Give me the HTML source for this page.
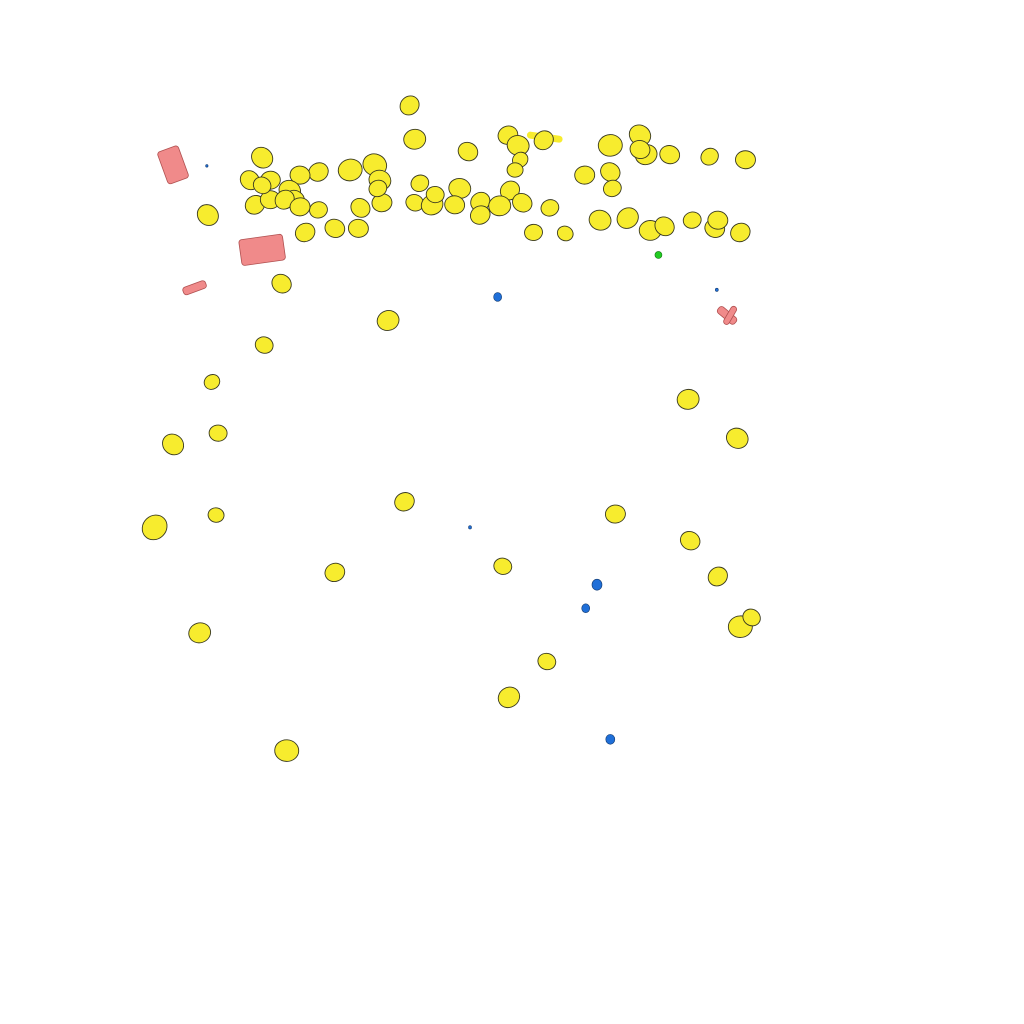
<!DOCTYPE html>
<html><head><meta charset="utf-8"><title>Blob render</title>
<style>html,body{margin:0;padding:0;background:#fff;}svg{display:block;}</style></head>
<body>
<svg id="chart" width="1024" height="1024" viewBox="0 0 1024 1024" xmlns="http://www.w3.org/2000/svg">
<rect width="1024" height="1024" fill="#fff"/>
<g id="marks"></g>
</svg>
<script>
// Data in 0-100 scene units
const yellowX = [40.0,40.5,45.7,49.6,50.6,53.1,59.6,62.5,63.1,65.4,69.3,72.8,25.6,34.2,36.6,31.1,29.3,24.4,26.4,28.3,41.0,44.9,49.8,57.1,59.6,59.8,37.1,24.9,26.4,28.8,31.1,32.7,29.8,35.0,35.2,37.3,40.5,42.2,44.4,46.9,48.8,51.0,53.7,58.6,61.3,63.5,64.9,67.6,69.8,72.3,70.1,20.3,52.1,55.2,46.9,42.5,
27.8,29.3,25.6,36.9,62.5,50.8,50.3,
27.5,37.9,25.8,20.7,21.3,16.9,67.2,72.0,39.5,21.1,15.1,60.1,67.4,32.7,49.1,70.1,72.3,73.4,19.5,53.4,49.7,28.0];
const yellowY = [10.3,13.6,14.8,13.2,14.2,13.7,14.2,13.2,15.1,15.1,15.3,15.6,15.4,16.6,16.1,16.8,17.1,17.6,17.6,18.6,17.9,18.4,18.6,17.1,16.8,18.4,17.6,20.0,19.5,19.5,20.5,22.3,22.7,22.3,20.3,19.8,19.8,20.0,20.0,19.7,20.1,19.8,20.3,21.5,21.3,22.5,22.1,21.5,22.3,22.7,21.5,21.0,22.7,22.8,21.0,19.0,
19.5,20.2,18.1,18.4,14.6,15.6,16.6,
27.7,31.3,33.7,37.3,42.3,43.4,39.0,42.8,49.0,50.3,51.5,50.2,52.8,55.9,55.3,56.3,61.2,60.3,61.8,64.6,68.1,73.3];
const yellowR = [10,11,10,10,11,10,12,11,11,10,9,10,11,12,12,10,10,10,10,11,9,11,10,10,10,9,11,10,10,10,9,10,10,10,10,10,9,11,10,10,11,10,9,11,11,11,10,9,10,10,10,11,9,8,10,9,
10,10,9,9,10,8,8,
10,11,9,8,9,11,11,11,10,8,13,10,10,10,9,10,12,9,11,9,11,12,11];
const pinkX = [16.9,25.6,19.0,71.0,71.3];
const pinkY = [16.1,24.4,28.1,30.8,30.8];
const pinkW = [22,44,24,22,20];
const pinkH = [34,26,8,8,6];
const pinkRot = [-20,-8,-20,40,-60];
const blueX = [48.6,58.3,57.2,59.6,45.9,70.0,20.2];
const blueY = [29.0,57.1,59.4,72.2,51.5,28.3,16.2];
const blueR = [4,5,4,4.5,1.5,1.5,1.2];
const greenX = [64.3];
const greenY = [24.9];
const barX1 = [51.8];
const barX2 = [54.6];
const barY = [13.2];

const sx = v => v * 10.24;
const sy = v => v * 10.24;
const NS = 'http://www.w3.org/2000/svg';
const g = document.getElementById('marks');

function mk(tag, attrs){ const e=document.createElementNS(NS,tag); for(const k in attrs) e.setAttribute(k,attrs[k]); return e; }

for (let i=0;i<pinkX.length;i++){
  const cx=sx(pinkX[i]), cy=sy(pinkY[i]);
  const e=mk('rect',{x:cx-pinkW[i]/2,y:cy-pinkH[i]/2,width:pinkW[i],height:pinkH[i],rx:3,fill:'#f08a8a',stroke:'#b05050','stroke-width':0.8,transform:`rotate(${pinkRot[i]} ${cx} ${cy})`});
  
  
  g.appendChild(e);
}
for (let i=0;i<barX1.length;i++){
  const e=mk('line',{x1:sx(barX1[i]),y1:sy(barY[i]),x2:sx(barX2[i]),y2:sy(barY[i])+4,stroke:'#f7ec2e','stroke-width':7,'stroke-linecap':'round'});
  
  
  g.appendChild(e);
}
for (let i=0;i<yellowX.length;i++){
  const r=yellowR[i], cx=sx(yellowX[i]), cy=sy(yellowY[i]);
  const e=mk('ellipse',{cx:cx,cy:cy,rx:r,ry:r*0.9,fill:'#f7ec2e',stroke:'#3a3a20','stroke-width':0.9,transform:`rotate(${(i*37)%90-45} ${cx} ${cy})`});
  
  
  g.appendChild(e);
}
for (let i=0;i<blueX.length;i++){
  const e=mk('ellipse',{cx:sx(blueX[i]),cy:sy(blueY[i]),rx:blueR[i],ry:blueR[i]*1.1,fill:'#1f6fd8',stroke:'#123a70','stroke-width':0.6});
  
  
  g.appendChild(e);
}
for (let i=0;i<greenX.length;i++){
  const e=mk('circle',{cx:sx(greenX[i]),cy:sy(greenY[i]),r:3.5,fill:'#22cc22',stroke:'#117711','stroke-width':0.6});
  
  
  g.appendChild(e);
}
</script>
</body></html>
